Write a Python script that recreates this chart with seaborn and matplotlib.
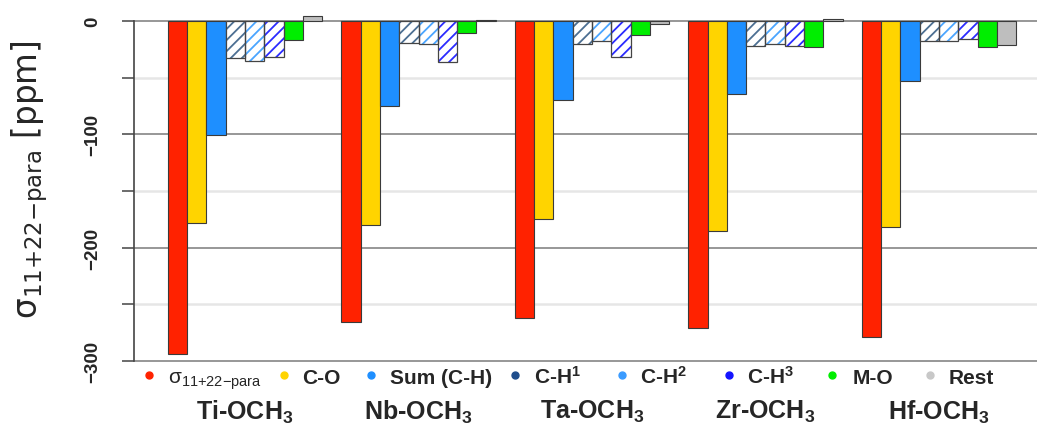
import matplotlib
matplotlib.use("Agg")
import matplotlib.pyplot as plt
from matplotlib.lines import Line2D
from matplotlib.patches import Rectangle
import pandas as pd
import seaborn as sns

# ---- data (ppm) ----
compounds = ["Ti-OCH3", "Nb-OCH3", "Ta-OCH3", "Zr-OCH3", "Hf-OCH3"]
group_labels = ["Ti-OCH$_3$", "Nb-OCH$_3$", "Ta-OCH$_3$", "Zr-OCH$_3$", "Hf-OCH$_3$"]
components = ["sigma", "C-O", "Sum (C-H)", "C-H1", "C-H2", "C-H3", "M-O", "Rest"]
sigma_sub = "σ$_{11{+}22{-}para}$"
legend_labels = [sigma_sub, "C-O", "Sum (C-H)", "C-H$^{\\mathregular{1}}$",
                 "C-H$^{\\mathregular{2}}$", "C-H$^{\\mathregular{3}}$", "M-O", "Rest"]

sigma_total = [-294, -266, -262, -271, -279]
c_o = [-178, -180, -175, -185, -182]
sum_ch = [-101, -75, -70, -64, -53]
ch1 = [-33, -19, -20, -22, -18]
ch2 = [-35, -20, -18, -20, -18]
ch3 = [-32, -36, -32, -22, -16]
m_o = [-17, -11, -12, -23, -23]
rest = [4, 1, -3, 2, -21]

series = [sigma_total, c_o, sum_ch, ch1, ch2, ch3, m_o, rest]

bar_colors = ["#FF2200", "#FFD400", "#1E8FFF", "#FFFFFF", "#FFFFFF", "#FFFFFF",
              "#00EE00", "#BEBEBE"]
hatch_colors = {3: "#4C6F92", 4: "#4AA5FF", 5: "#2B2BFF"}
dot_colors = ["#FF2200", "#FFD400", "#1E8FFF", "#1F4E8C", "#3A9BFF", "#1414FF",
              "#00EE00", "#C8C8C8"]

df = pd.DataFrame(
    [(c, comp, v) for comp, vals in zip(components, series)
     for c, v in zip(compounds, vals)],
    columns=["compound", "component", "value"],
)

sns.set_style("white")
plt.rcParams["font.family"] = ["Liberation Sans", "DejaVu Sans"]
plt.rcParams["mathtext.default"] = "regular"
plt.rcParams["hatch.linewidth"] = 1.3

W, H = 1037, 431
fig = plt.figure(figsize=(W / 100, H / 100), dpi=100)

# axes: y 0 -> 22 px, -300 -> 362 px ; small padding around the range
ymin, ymax = -303, 3
ppu = 340 / 300
top_px = 22 - ymax * ppu
bot_px = 362 + (-300 - ymin) * ppu
ax = fig.add_axes([134 / W, 1 - bot_px / H, (W - 134) / W, (bot_px - top_px) / H])

sns.barplot(data=df, x="compound", y="value", hue="component",
            order=compounds, hue_order=components, palette=bar_colors,
            width=8 / 9, dodge=True, saturation=1, errorbar=None,
            edgecolor="#3a3a3a", linewidth=0.8, legend=False, ax=ax)

for i, cont in enumerate(ax.containers):
    for bar in cont:
        bar.set_clip_on(False)
        if i in hatch_colors:
            bar.set_facecolor("white")
            bar.set_hatch("///")
            bar.set_edgecolor(hatch_colors[i])
            bar.set_linewidth(0)
            ax.add_patch(Rectangle(bar.get_xy(), bar.get_width(), bar.get_height(),
                                   fill=False, edgecolor="#444444", lw=0.9,
                                   zorder=bar.get_zorder() + 0.1, clip_on=False))

ax.set_xlim(-0.640, 4.565)
ax.set_ylim(ymin, ymax)

# y axis
ax.set_yticks([0, -100, -200, -300])
ax.set_yticks([-50, -150, -250], minor=True)
ax.grid(which="major", axis="y", color="#8f8f8f", lw=1.3)
ax.grid(which="minor", axis="y", color="#e6e6e6", lw=1.8)
ax.set_axisbelow(True)
for s in ["top", "right", "bottom"]:
    ax.spines[s].set_visible(False)
ax.spines["left"].set_bounds(-300, 0)
ax.spines["left"].set_color("#444444")
ax.spines["left"].set_linewidth(1.2)
ax.tick_params(axis="y", which="both", direction="out", length=8.6, width=1.1,
               color="#444444", left=True)
ax.tick_params(axis="y", which="major", pad=21, labelsize=13.5)
for lab in ax.get_yticklabels():
    lab.set_rotation(90)
    lab.set_ha("center")
    lab.set_va("center")
    lab.set_fontweight("bold")

ax.set_ylabel(sigma_sub + " [ppm]", fontsize=23.5, family=["DejaVu Sans"],
              va="center", ha="center")
ax.yaxis.set_label_coords((30 - 134) / (W - 134), (bot_px - 180) / (bot_px - top_px))

# x axis: group names
ax.set_xticks(range(len(compounds)), labels=group_labels)
ax.set_xlabel("")
ax.tick_params(axis="x", length=0, pad=24, labelsize=18)
for lab in ax.get_xticklabels():
    lab.set_fontweight("bold")

# legend row under the axis
dot_x = [149, 284, 371, 515, 622, 729, 832, 930]
text_x = [168, 302, 390, 534, 640, 747, 853, 949]
for k, (lbl, col) in enumerate(zip(legend_labels, dot_colors)):
    fig.add_artist(Line2D([dot_x[k] / W], [1 - 375.5 / H], transform=fig.transFigure,
                          marker="o", ms=5, color=col, linestyle="none"))
    fig.text(text_x[k] / W, 1 - 384 / H, lbl, fontsize=15,
             fontweight="normal" if k == 0 else "bold", va="baseline", ha="left")

fig.savefig("out.png", dpi=100)
